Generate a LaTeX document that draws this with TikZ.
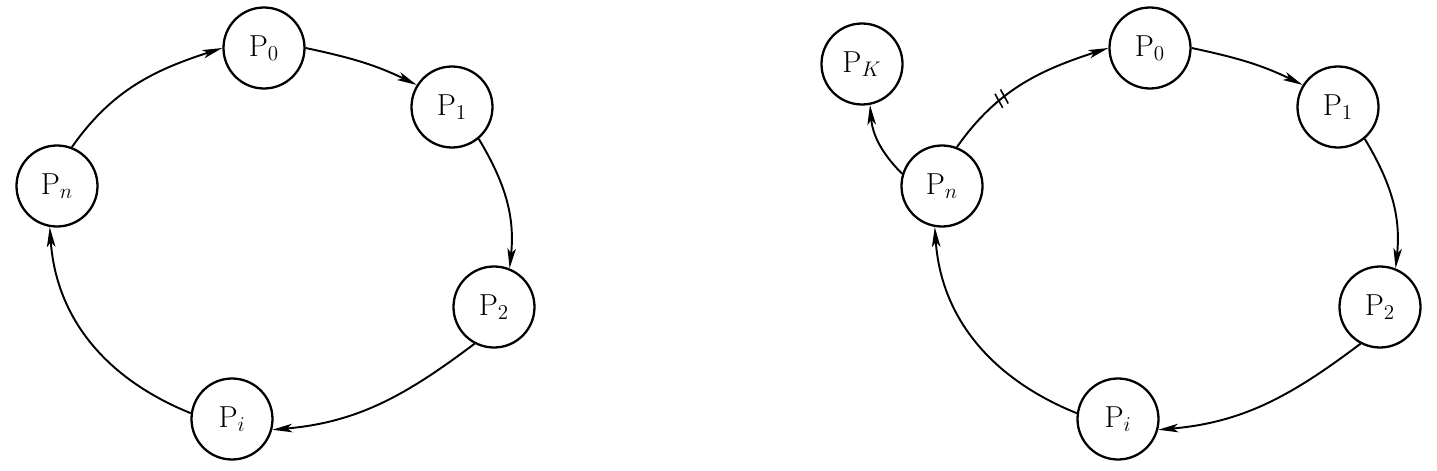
\documentclass[tikz,border=0pt]{standalone}
\usepackage{tikz}
\usetikzlibrary{arrows.meta,decorations.markings}

\tikzset{
  proc/.style={circle, draw, line width=1.3pt, minimum size=1.62cm, inner sep=0pt,
               font=\fontsize{17}{20}\selectfont},
  link/.style={line width=1.1pt, -{Stealth[length=0.4cm, width=0.17cm, inset=0.1cm]}},
  cut/.style={postaction={decorate}, decoration={markings, mark=at position 0.36 with {
               \draw[-, line width=0.9pt] (-3pt,-4.5pt) -- (-1.5pt,4.5pt);
               \draw[-, line width=0.9pt] ( 1pt,-4.5pt) -- ( 2.5pt,4.5pt);}}}
}

\begin{document}
\begin{tikzpicture}
    \useasboundingbox (0,0) rectangle (28.74,-9.42);
    % Left ring
    \node[proc] (L0) at ( 5.28,-0.96) {$\mathrm{P}_{0}$};
    \node[proc] (L1) at ( 9.04,-2.14) {$\mathrm{P}_{1}$};
    \node[proc] (L2) at ( 9.88,-6.14) {$\mathrm{P}_{2}$};
    \node[proc] (Li) at ( 4.64,-8.38) {$\mathrm{P}_{i}$};
    \node[proc] (Ln) at ( 1.14,-3.72) {$\mathrm{P}_{n}$};
    \draw[link] (Ln.69)  to[out=55,  in=198] (L0.180);
    \draw[link] (L0.0)   to[out=-12, in=154] (L1.148);
    \draw[link] (L1.-50) to[out=-59, in=84]  (L2.68);
    \draw[link] (L2.242) to[out=217, in=5]   (Li.-15);
    \draw[link] (Li.172) to[out=158, in=274] (Ln.260);
    % Right ring, broken at P_n
    \node[proc] (RK) at (17.24,-1.28) {$\mathrm{P}_{K}$};
    \node[proc] (R0) at (23.00,-0.96) {$\mathrm{P}_{0}$};
    \node[proc] (R1) at (26.76,-2.14) {$\mathrm{P}_{1}$};
    \node[proc] (R2) at (27.60,-6.14) {$\mathrm{P}_{2}$};
    \node[proc] (Ri) at (22.36,-8.38) {$\mathrm{P}_{i}$};
    \node[proc] (Rn) at (18.84,-3.72) {$\mathrm{P}_{n}$};
    \draw[link, cut] (Rn.69) to[out=55, in=198] (R0.180);
    \draw[link] (R0.0)   to[out=-12, in=154] (R1.148);
    \draw[link] (R1.-50) to[out=-59, in=84]  (R2.68);
    \draw[link] (R2.242) to[out=217, in=5]   (Ri.-15);
    \draw[link] (Ri.172) to[out=158, in=274] (Rn.260);
    \draw[link] (Rn.163) to[out=135, in=275] (RK.281);
\end{tikzpicture}
\end{document}
